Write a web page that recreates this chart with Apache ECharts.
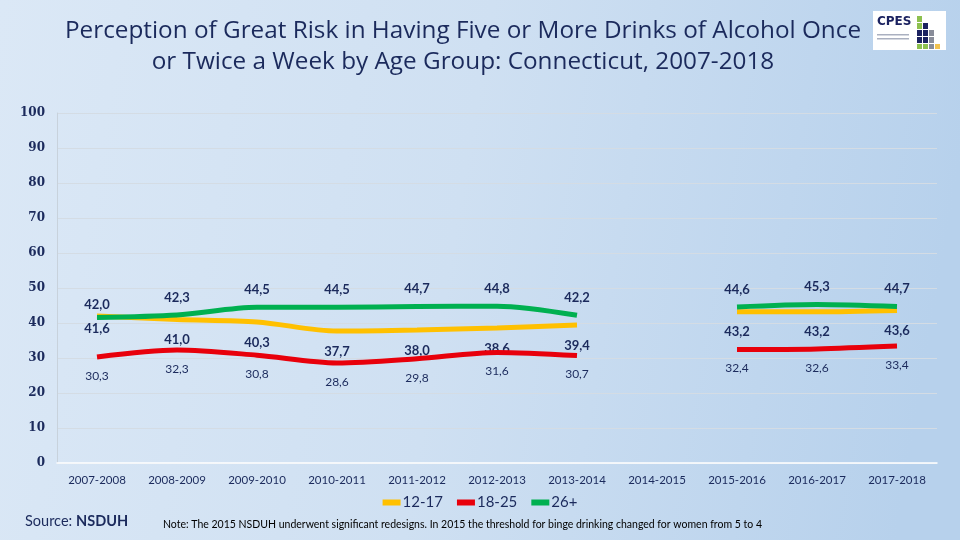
<!DOCTYPE html>
<html><head><meta charset="utf-8">
<script src="https://cdn.jsdelivr.net/npm/echarts@6/dist/echarts.min.js"></script>
<style>html,body{margin:0;padding:0;}#c{width:960px;height:540px;}</style>
</head><body><div id="c"></div>
<script>
const categories = ['2007-2008','2008-2009','2009-2010','2010-2011','2011-2012','2012-2013','2013-2014','2014-2015','2015-2016','2016-2017','2017-2018'];
const age1217 = [42.0, 41.0, 40.3, 37.7, 38.0, 38.6, 39.4, null, 43.2, 43.2, 43.6];
const age1825 = [30.3, 32.3, 30.8, 28.6, 29.8, 31.6, 30.7, null, 32.4, 32.6, 33.4];
const age26p  = [41.6, 42.3, 44.5, 44.5, 44.7, 44.8, 42.2, null, 44.6, 45.3, 44.7];
const yTicks = [0,10,20,30,40,50,60,70,80,90,100];
const seriesNames = ['12-17','18-25','26+'];
const seriesColors = ['#ffc000','#e8000b','#00b050'];

const navy = '#1b2a5c';
function numFmt(v){ return v == null ? '' : Number(v).toFixed(1).replace('.', ','); }

function mkData(arr, firstPos){
  return arr.map((v,i)=>{
    if (i===0 && firstPos) return {value:v, label:{position:firstPos, distance:4}};
    return v;
  });
}

const chart = echarts.init(document.getElementById('c'));
const boldLbl = {show:true, color:navy, fontFamily:'Lato', fontWeight:'bold', fontSize:13,
  formatter:p=>numFmt(p.value)};
const hiddenSym = {symbol:'circle', symbolSize:2, showSymbol:true, itemStyle:{color:'rgba(0,0,0,0)'}};

chart.setOption({
  backgroundColor: {type:'linear', x:0, y:0, x2:1, y2:0.3, colorStops:[
    {offset:0, color:'#dbe8f6'}, {offset:0.5, color:'#cfe0f2'}, {offset:1, color:'#b7d1ec'}]},
  title: {
    text: 'Perception of Great Risk in Having Five or More Drinks of Alcohol Once\nor Twice a Week by Age Group: Connecticut, 2007-2018',
    left: 458, top: 11, textAlign:'center',
    textStyle: {fontFamily:'Open Sans', fontWeight:'normal', fontSize:24.3, color:navy, lineHeight:31}
  },
  legend: {
    data: seriesNames.map((n,i)=>({name:n, itemStyle:{color:seriesColors[i]}})),
    bottom: 25, left:'center',
    icon:'rect', itemWidth:18, itemHeight:6, itemGap:14,
    textStyle:{fontFamily:'Lato', fontSize:15, color:navy, padding:[0,0,0,-3]}
  },
  grid: {left:57, right:23, top:113, bottom:77},
  xAxis: {
    type:'category', data:categories, boundaryGap:true,
    axisLine:{lineStyle:{color:'#ffffff', width:1.5}},
    axisTick:{show:false},
    axisLabel:{fontFamily:'Lato', fontSize:11.5, color:navy, margin:11}
  },
  yAxis: {
    type:'value', min:0, max:100, interval:10,
    axisLine:{show:true, lineStyle:{color:'#c8d2dc'}},
    axisTick:{show:false},
    splitLine:{lineStyle:{color:'#d4dce4', width:1}},
    axisLabel:{fontFamily:'DejaVu Serif', fontWeight:'bold', fontSize:12, color:navy, margin:12,
      formatter:v=> yTicks.includes(v) ? String(v) : ''}
  },
  series: [
    Object.assign({name:seriesNames[0], type:'line', data: mkData(age1217,'top'), smooth:0.3,
      lineStyle:{width:5, color:seriesColors[0]}, z:2,
      label:Object.assign({}, boldLbl, {position:'bottom', distance:13})}, hiddenSym),
    Object.assign({name:seriesNames[1], type:'line', data: age1825, smooth:0.3,
      lineStyle:{width:5, color:seriesColors[1]}, z:3,
      label:{show:true, position:'bottom', distance:12, color:navy, fontFamily:'Lato', fontSize:12,
        formatter:p=>numFmt(p.value)}}, hiddenSym),
    Object.assign({name:seriesNames[2], type:'line', data: mkData(age26p,'bottom'), smooth:0.3,
      lineStyle:{width:5, color:seriesColors[2]}, z:4,
      label:Object.assign({}, boldLbl, {position:'top', distance:10})}, hiddenSym)
  ],
  graphic: [
    {type:'text', left:25, top:514, style:{text:'Source: ', fontFamily:'Lato', fontSize:14.5, fill:navy}},
    {type:'text', left:76, top:514, style:{text:'NSDUH', fontFamily:'Lato', fontWeight:'bold', fontSize:14.5, fill:navy}},
    {type:'text', left:163, top:519, style:{text:'Note: The 2015 NSDUH underwent significant redesigns. In 2015 the threshold for binge drinking changed for women from 5 to 4', fontFamily:'Lato', fontSize:10.5, fill:'#000000'}},
    {type:'group', left:873, top:11, children:[
      {type:'rect', shape:{x:0,y:0,width:73,height:39}, style:{fill:'#ffffff'}},
      {type:'text', x:4, y:5, style:{text:'CPES', fontFamily:'DejaVu Sans', fontWeight:'bold', fontSize:12, fill:'#1b2260'}},
      {type:'rect', shape:{x:4,y:23,width:32,height:1.5}, style:{fill:'#aab0c0'}},
      {type:'rect', shape:{x:4,y:27,width:32,height:1.5}, style:{fill:'#aab0c0'}},
      {type:'rect', shape:{x:44,y:5,width:5,height:6}, style:{fill:'#8dc04f'}},
      {type:'rect', shape:{x:44,y:12,width:5,height:6}, style:{fill:'#8dc04f'}},
      {type:'rect', shape:{x:44,y:19,width:5,height:6}, style:{fill:'#1b2260'}},
      {type:'rect', shape:{x:50,y:19,width:5,height:6}, style:{fill:'#1b2260'}},
      {type:'rect', shape:{x:44,y:26,width:5,height:6}, style:{fill:'#1b2260'}},
      {type:'rect', shape:{x:50,y:26,width:5,height:6}, style:{fill:'#1b2260'}},
      {type:'rect', shape:{x:56,y:26,width:5,height:6}, style:{fill:'#888c99'}},
      {type:'rect', shape:{x:50,y:12,width:5,height:6}, style:{fill:'#1b2260'}},
      {type:'rect', shape:{x:56,y:19,width:5,height:6}, style:{fill:'#888c99'}},
      {type:'rect', shape:{x:44,y:33,width:5,height:5}, style:{fill:'#8dc04f'}},
      {type:'rect', shape:{x:50,y:33,width:5,height:5}, style:{fill:'#8dc04f'}},
      {type:'rect', shape:{x:56,y:33,width:5,height:5}, style:{fill:'#888c99'}},
      {type:'rect', shape:{x:62,y:33,width:5,height:5}, style:{fill:'#f2c24f'}}
    ]}
  ]
});
</script></body></html>
